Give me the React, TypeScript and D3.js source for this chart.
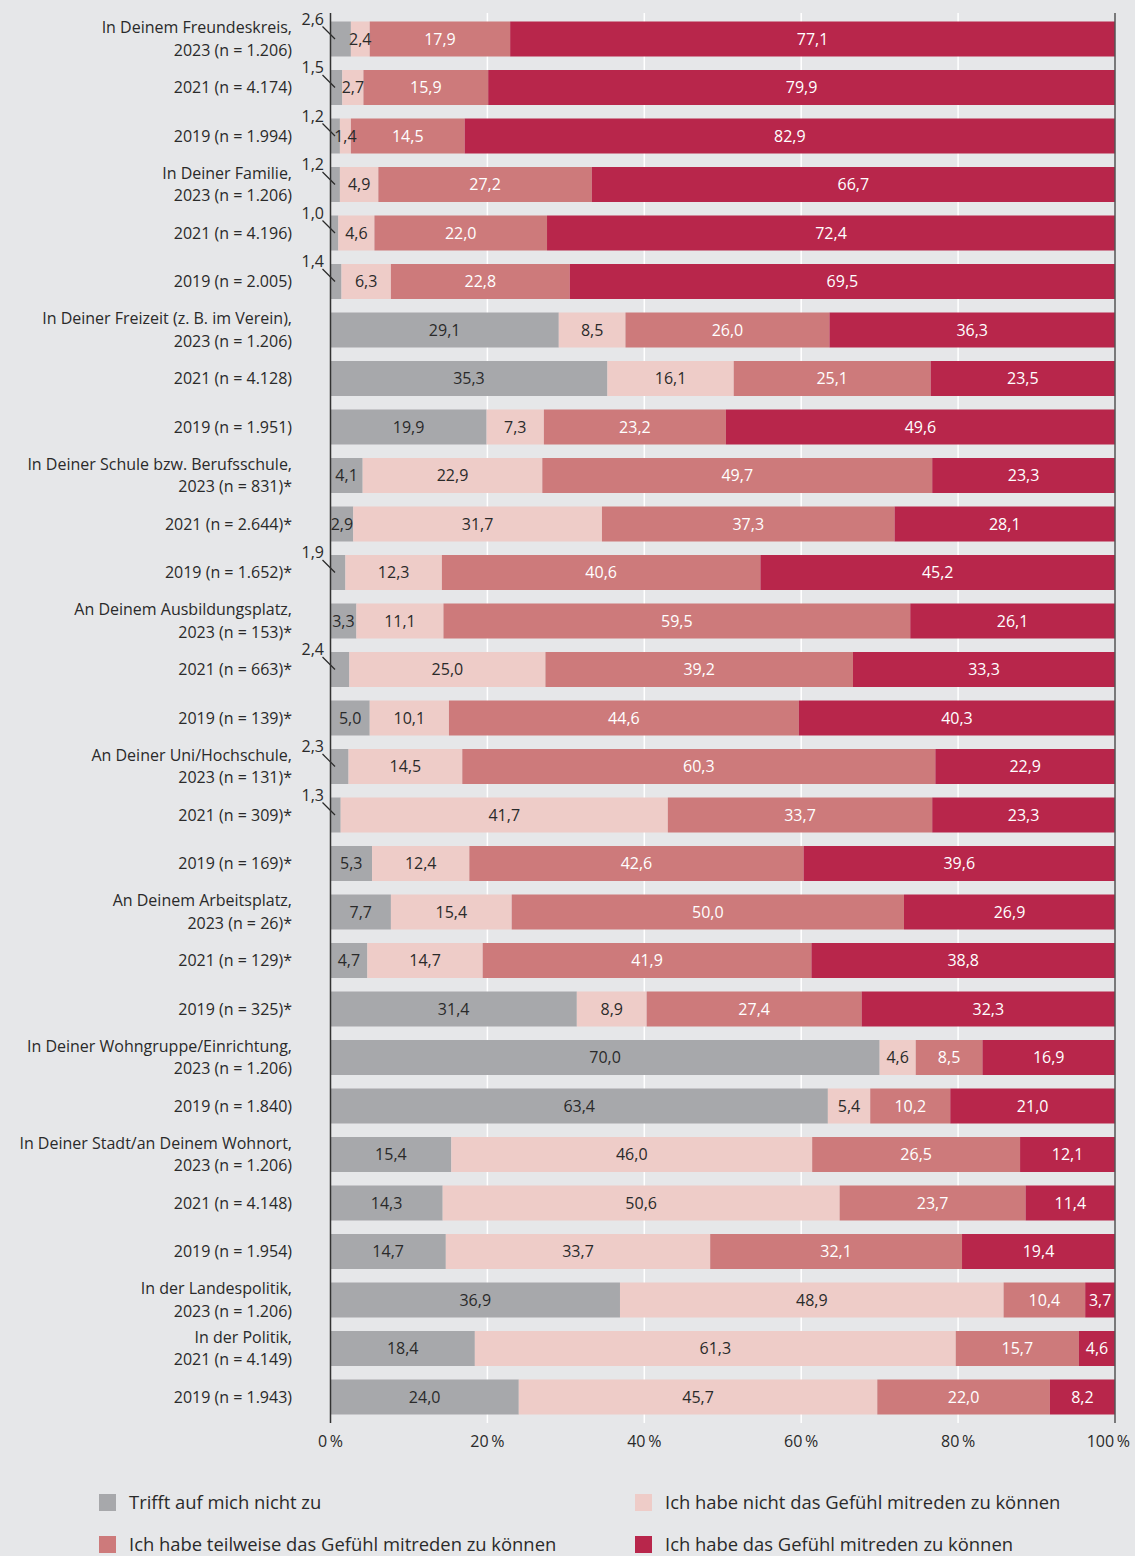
import React from "react";
import * as d3 from "d3";

const rowLabels: string[][] = [
  ["In Deinem Freundeskreis,", "2023 (n = 1.206)"],
  ["2021 (n = 4.174)"],
  ["2019 (n = 1.994)"],
  ["In Deiner Familie,", "2023 (n = 1.206)"],
  ["2021 (n = 4.196)"],
  ["2019 (n = 2.005)"],
  ["In Deiner Freizeit (z. B. im Verein),", "2023 (n = 1.206)"],
  ["2021 (n = 4.128)"],
  ["2019 (n = 1.951)"],
  ["In Deiner Schule bzw. Berufsschule,", "2023 (n = 831)*"],
  ["2021 (n = 2.644)*"],
  ["2019 (n = 1.652)*"],
  ["An Deinem Ausbildungsplatz,", "2023 (n = 153)*"],
  ["2021 (n = 663)*"],
  ["2019 (n = 139)*"],
  ["An Deiner Uni/Hochschule,", "2023 (n = 131)*"],
  ["2021 (n = 309)*"],
  ["2019 (n = 169)*"],
  ["An Deinem Arbeitsplatz,", "2023 (n = 26)*"],
  ["2021 (n = 129)*"],
  ["2019 (n = 325)*"],
  ["In Deiner Wohngruppe/Einrichtung,", "2023 (n = 1.206)"],
  ["2019 (n = 1.840)"],
  ["In Deiner Stadt/an Deinem Wohnort,", "2023 (n = 1.206)"],
  ["2021 (n = 4.148)"],
  ["2019 (n = 1.954)"],
  ["In der Landespolitik,", "2023 (n = 1.206)"],
  ["In der Politik,", "2021 (n = 4.149)"],
  ["2019 (n = 1.943)"],
];

const trifftNicht: number[] = [2.6, 1.5, 1.2, 1.2, 1.0, 1.4, 29.1, 35.3, 19.9, 4.1, 2.9, 1.9, 3.3, 2.4, 5.0, 2.3, 1.3, 5.3, 7.7, 4.7, 31.4, 70.0, 63.4, 15.4, 14.3, 14.7, 36.9, 18.4, 24.0];
const nichtGefuehl: number[] = [2.4, 2.7, 1.4, 4.9, 4.6, 6.3, 8.5, 16.1, 7.3, 22.9, 31.7, 12.3, 11.1, 25.0, 10.1, 14.5, 41.7, 12.4, 15.4, 14.7, 8.9, 4.6, 5.4, 46.0, 50.6, 33.7, 48.9, 61.3, 45.7];
const teilweise: number[] = [17.9, 15.9, 14.5, 27.2, 22.0, 22.8, 26.0, 25.1, 23.2, 49.7, 37.3, 40.6, 59.5, 39.2, 44.6, 60.3, 33.7, 42.6, 50.0, 41.9, 27.4, 8.5, 10.2, 26.5, 23.7, 32.1, 10.4, 15.7, 22.0];
const gefuehl: number[] = [77.1, 79.9, 82.9, 66.7, 72.4, 69.5, 36.3, 23.5, 49.6, 23.3, 28.1, 45.2, 26.1, 33.3, 40.3, 22.9, 23.3, 39.6, 26.9, 38.8, 32.3, 16.9, 21.0, 12.1, 11.4, 19.4, 3.7, 4.6, 8.2];

const seriesNames: string[] = [
  "Trifft auf mich nicht zu",
  "Ich habe nicht das Gefühl mitreden zu können",
  "Ich habe teilweise das Gefühl mitreden zu können",
  "Ich habe das Gefühl mitreden zu können",
];
const seriesValues: number[][] = [trifftNicht, nichtGefuehl, teilweise, gefuehl];
const seriesColors = ["#a7a8ab", "#eeccc8", "#cd7a7b", "#b8264b"];
const seriesTextColors = ["#2a2a2a", "#2a2a2a", "#ffffff", "#ffffff"];
const xTicks: number[] = [0, 20, 40, 60, 80, 100];

const W = 1135;
const H = 1556;
const FONT = "'Open Sans', 'Noto Sans', sans-serif";
const TEXT = "#2a2a2a";

type Seg = { row: number; s: number; v: number; x0: number; x1: number; y0: number; cy: number };

export default function App() {
  const x = d3.scaleLinear().domain([0, 100]).range([330.5, 1115]);
  const idx = rowLabels.map((_, i) => i);
  const y = d3
    .scaleBand<number>()
    .domain(idx)
    .range([14.75, 14.75 + 48.5 * rowLabels.length])
    .paddingInner(13.5 / 48.5)
    .paddingOuter(13.5 / 48.5 / 2);
  const bw = y.bandwidth();
  const fmt = (v: number) => v.toFixed(1).replace(".", ",");

  const segs: Seg[] = [];
  idx.forEach((i) => {
    let cum = 0;
    const y0 = y(i)!;
    seriesValues.forEach((vals, s) => {
      const v = vals[i];
      const a = cum;
      cum += v;
      segs.push({ row: i, s, v, x0: x(a), x1: s === 3 ? x(100) : x(a + v), y0, cy: y0 + bw / 2 });
    });
  });

  const axisTop = 13;
  const axisBottom = 1423;

  return (
    <svg
      width={W}
      height={H}
      style={{ position: "absolute", left: 0, top: 0, display: "block" }}
      fontFamily={FONT}
    >
      <rect x={0} y={0} width={W} height={H} fill="#e6e7e9" />
      {xTicks.slice(1, -1).map((t) => (
        <line key={t} x1={x(t)} x2={x(t)} y1={axisTop} y2={axisBottom} stroke="#ffffff" strokeWidth={1.5} />
      ))}
      {segs.map((d, k) => (
        <rect key={k} x={d.x0} y={d.y0} width={Math.max(0, d.x1 - d.x0)} height={bw} fill={seriesColors[d.s]} />
      ))}
      {segs.map((d, k) => {
        const outside = d.s === 0 && d.v < 2.8;
        return outside ? (
          <g key={k}>
            <line x1={322.5} y1={d.y0 + 5} x2={335} y2={d.cy} stroke={TEXT} strokeWidth={1.2} />
            <text x={324} y={d.y0 + 3} textAnchor="end" fontSize={16} fill={TEXT}>
              {fmt(d.v)}
            </text>
          </g>
        ) : (
          <text
            key={k}
            x={(d.x0 + d.x1) / 2}
            y={d.cy}
            dy="0.35em"
            textAnchor="middle"
            fontSize={16}
            fill={seriesTextColors[d.s]}
          >
            {fmt(d.v)}
          </text>
        );
      })}
      {idx.map((i) => {
        const cy = y(i)! + bw / 2;
        return rowLabels[i].length === 1 ? (
          <text key={i} x={292} y={cy} dy="0.35em" textAnchor="end" fontSize={16} fill={TEXT}>
            {rowLabels[i][0]}
          </text>
        ) : (
          <text key={i} x={292} y={cy} textAnchor="end" fontSize={16} fill={TEXT}>
            <tspan x={292} dy="-0.35em">{rowLabels[i][0]}</tspan>
            <tspan x={292} dy="1.4em">{rowLabels[i][1]}</tspan>
          </text>
        );
      })}
      <line x1={x(0)} x2={x(0)} y1={axisTop} y2={axisBottom} stroke="#333" strokeWidth={1.5} />
      <line x1={x(100)} x2={x(100)} y1={axisTop} y2={axisBottom} stroke="#555" strokeWidth={1.5} />
      {xTicks.map((t) => (
        <text
          key={t}
          x={t === 100 ? 1130 : x(t)}
          y={1447}
          textAnchor={t === 100 ? "end" : "middle"}
          fontSize={16}
          fill={TEXT}
        >
          {`${t}\u2009%`}
        </text>
      ))}
      {seriesNames.map((n, s) => {
        const col = s === 0 || s === 2 ? 0 : 1;
        const row = s < 2 ? 0 : 1;
        const lx = col === 0 ? 99 : 635;
        const ly = row === 0 ? 1494 : 1536;
        return (
          <g key={n}>
            <rect x={lx} y={ly} width={17} height={17} fill={seriesColors[s]} />
            <text x={lx + 30} y={ly + 9} dy="0.35em" fontSize={18.4} fill={TEXT}>
              {n}
            </text>
          </g>
        );
      })}
    </svg>
  );
}
